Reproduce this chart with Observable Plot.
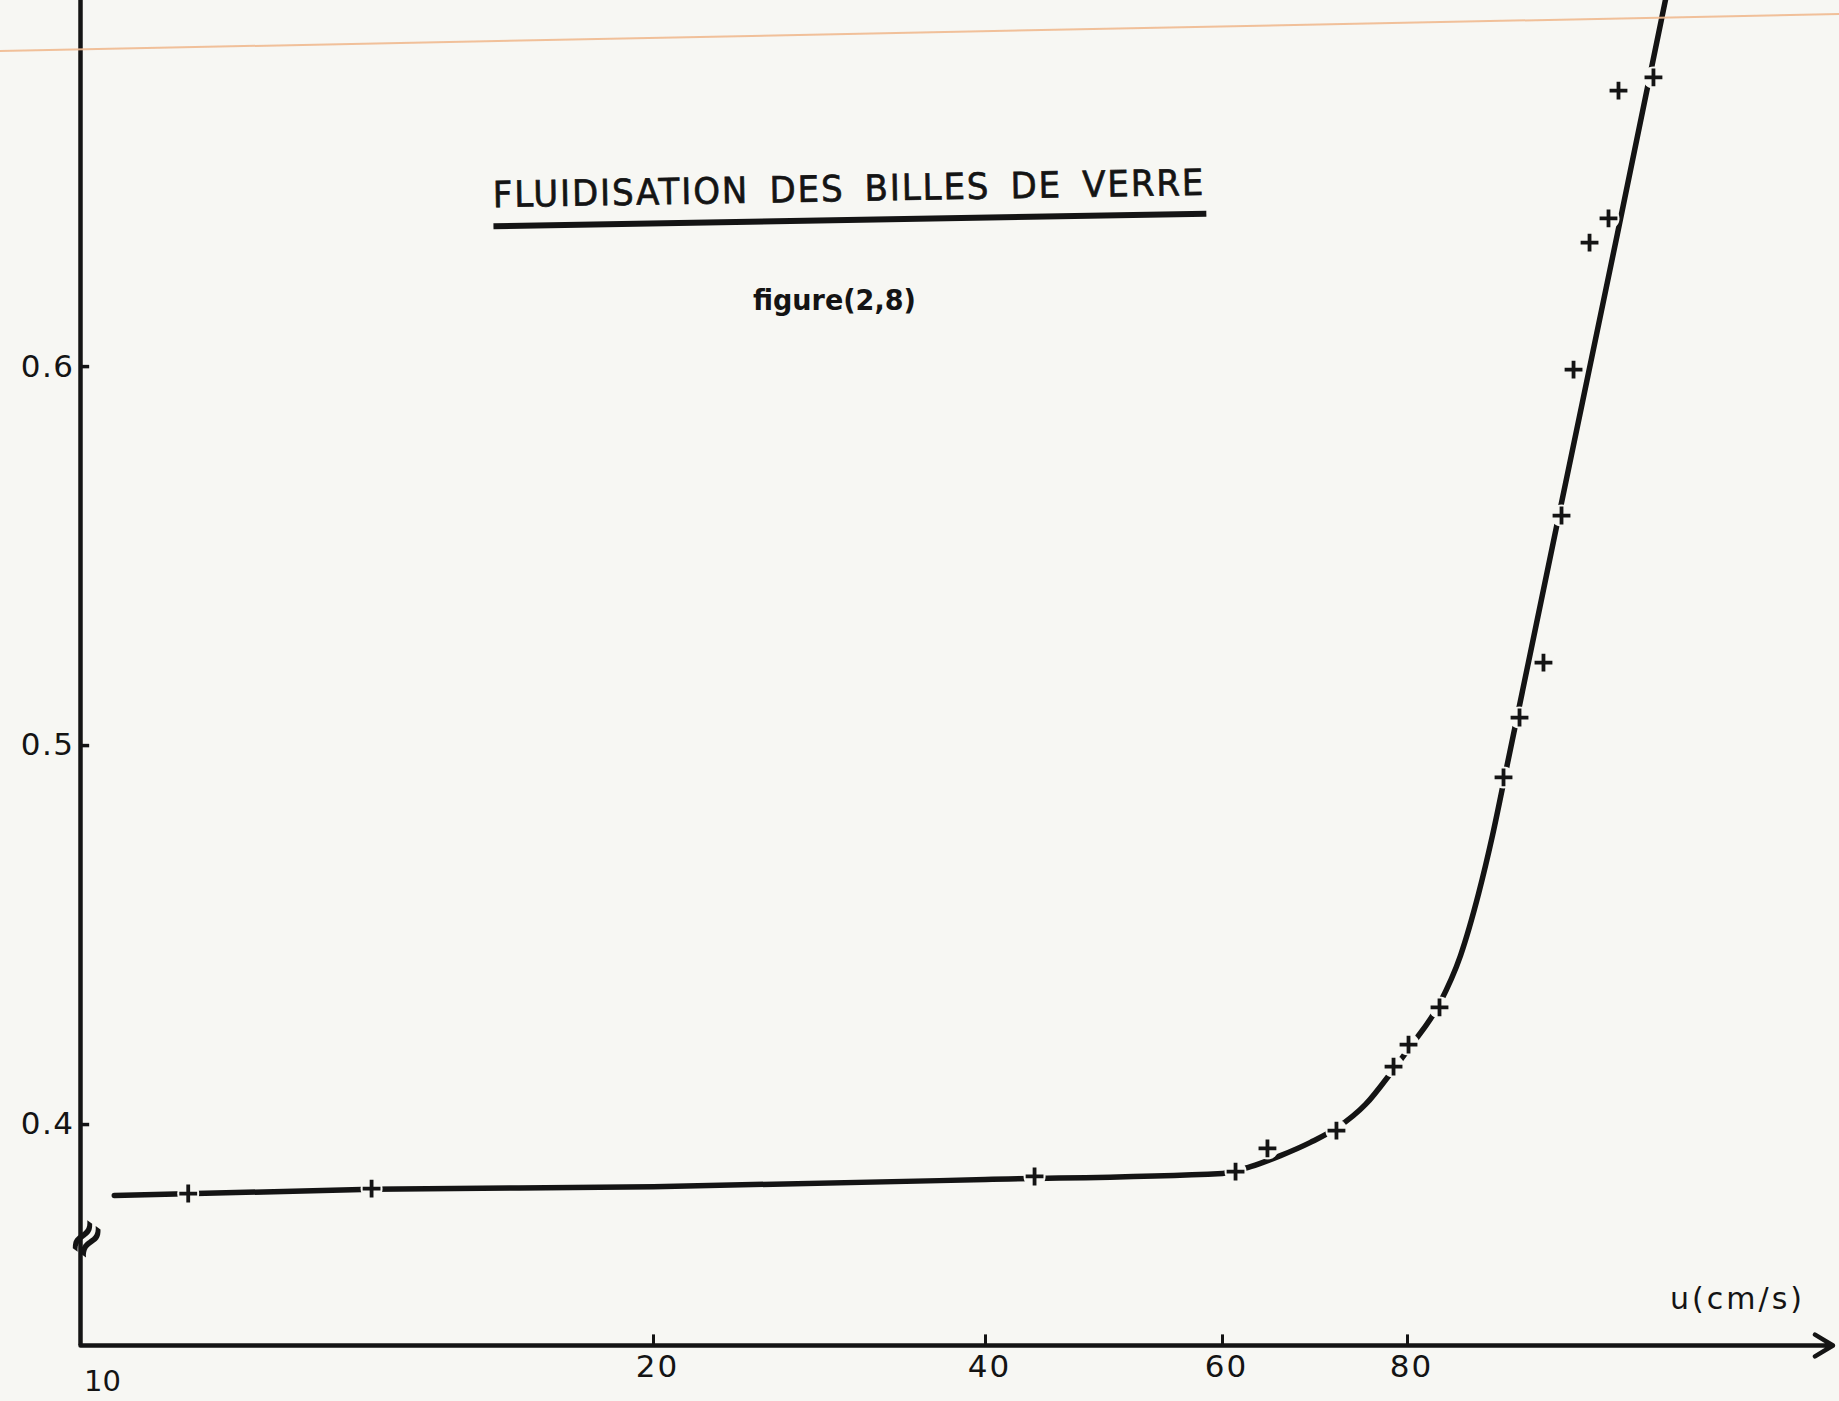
<!DOCTYPE html>
<html>
<head>
<meta charset="utf-8">
<script src="https://cdn.jsdelivr.net/npm/d3@7"></script>
<script src="https://cdn.jsdelivr.net/npm/@observablehq/plot@0.6"></script>
<style>
  html, body { margin: 0; padding: 0; background: #f7f7f3; }
  #wrap { position: relative; width: 1839px; height: 1401px; overflow: hidden; background: #f7f7f3; }
  #chart { position: absolute; left: 0; top: 0; }
  #scanline { position: absolute; left: 0; top: 50px; width: 1860px; height: 2px; background: #efb98f;
              transform-origin: 0 50%; transform: rotate(-1.15deg); opacity: 0.9; }
  #title { position: absolute; left: 493px; top: 171px; width: 713px; display: flex; justify-content: center; white-space: nowrap;
           font-family: "DejaVu Sans", sans-serif; font-size: 36px; line-height: 36px; letter-spacing: 2px; word-spacing: 8px;
           color: #141414; -webkit-text-stroke: 0.7px #141414; padding-bottom: 10px; border-bottom: 6px solid #141414;
           transform-origin: 50% 50%; transform: rotate(-1deg); }
  #fig { position: absolute; left: 751px; top: 284px; width: 166px; display: flex; justify-content: center; white-space: nowrap;
         font-family: "DejaVu Sans", sans-serif; font-weight: bold; font-size: 29px; line-height: 32px; color: #141414; }
</style>
</head>
<body>
<div id="wrap">
  <div id="chart"></div>
  <div id="scanline"></div>
  <div id="title">FLUIDISATION DES BILLES DE VERRE</div>
  <div id="fig">figure(2,8)</div>
</div>
<script>
// ---- measured points (u in cm/s, porosity) ----
const pointU   = [11.88, 15.08, 44.14, 61.41, 64.86, 72.32, 78.49, 80.11, 83.46, 90.38, 92.11, 94.70, 96.65, 97.95, 99.68, 101.73, 102.81, 106.59];
const pointEps = [0.3818, 0.3831, 0.3863, 0.3876, 0.3937, 0.3984, 0.4153, 0.4211, 0.4309, 0.4916, 0.5074, 0.5219, 0.5607, 0.5992, 0.6327, 0.6391, 0.6728, 0.6763];

// ---- hand-drawn fitted curve ----
const curveU   = [10.59, 15.08, 20, 40, 60, 63.03, 66.27, 69.51, 72.43, 75.46, 78.38, 80.22, 83.46, 85.73, 87.68, 89.19, 90.81, 96.32, 102.70, 108.43];
const curveEps = [0.3813, 0.3829, 0.3836, 0.3855, 0.3871, 0.3889, 0.3918, 0.3953, 0.3992, 0.4053, 0.4142, 0.4203, 0.4319, 0.4446, 0.4609, 0.4763, 0.4953, 0.5602, 0.6351, 0.7032];

// ---- axes ----
const xTickValues = [20, 40, 60, 80];
const xTickLabels = ["20", "40", "60", "80"];
const originValue = [10];
const originLabel = ["10"];
const yTickValues = [0.4, 0.5, 0.6];
const yTickLabels = ["0.4", "0.5", "0.6"];
const breakValue = [0.3699];
const xAxisLabel = ["u(cm/s)"];
const xAxisEnd = 126;

// hand-drawn, non-uniform x graduation (piecewise scale)
const xScaleDomain = [10, 20, 40, 60, 80];
const xScaleRange  = [80, 653, 985, 1222, 1407];
const yDomain = [0.3417, 0.6966];

const ink = "#141414";
const paper = "#f7f7f3";

const points = pointU.map((u, i) => ({u, eps: pointEps[i]}));
const curve = curveU.map((u, i) => ({u, eps: curveEps[i]}));
const yMin = yDomain[0];

const chart = Plot.plot({
  width: 1839,
  height: 1401,
  marginTop: 0, marginBottom: 56, marginLeft: 0, marginRight: 0,
  style: {background: paper, fontFamily: "DejaVu Sans, sans-serif", color: ink},
  x: {type: "linear", domain: xScaleDomain, range: xScaleRange, axis: null},
  y: {domain: yDomain, axis: null},
  marks: [
    // curve
    Plot.line(curve, {x: "u", y: "eps", curve: "monotone-x", stroke: ink, strokeWidth: 5.5, clip: true}),
    // gaps in the curve around the measured points
    Plot.dot(points, {x: "u", y: "eps", r: 11, fill: paper}),
    // measured points
    Plot.dot(points, {x: "u", y: "eps", symbol: "plus", r: 5.8, stroke: ink, strokeWidth: 3.8}),
    // y axis
    Plot.ruleX(originValue, {stroke: ink, strokeWidth: 4.5}),
    Plot.ruleY(yTickValues, {x1: originValue[0], x2: originValue[0] + 0.16, stroke: ink, strokeWidth: 3.5}),
    Plot.text(yTickValues, {x: () => originValue[0], y: d => d, text: (d, i) => yTickLabels[i],
      textAnchor: "end", dx: -6, fontSize: 31, fill: ink}),
    // axis break mark
    Plot.text(breakValue, {x: () => originValue[0], y: d => d, text: () => "≈", rotate: -55, dx: 6,
      fontSize: 50, fontWeight: "bold", fill: ink}),
    // x axis with arrow
    Plot.arrow([{x1: originValue[0], x2: xAxisEnd}], {x1: "x1", x2: "x2", y1: () => yMin, y2: () => yMin,
      stroke: ink, strokeWidth: 4.5, headLength: 7, headAngle: 62}),
    Plot.ruleX(xTickValues, {y1: () => yMin, y2: () => yMin + 0.0028, stroke: ink, strokeWidth: 3}),
    Plot.text(xTickValues, {x: d => d, y: () => yMin, text: (d, i) => xTickLabels[i], dy: 22, dx: 4,
      fontSize: 31, fill: ink}),
    Plot.text(originValue, {x: d => d, y: () => yMin, text: (d, i) => originLabel[i], dx: 22, dy: 36,
      fontSize: 29, fill: ink}),
    Plot.text(xAxisLabel, {x: () => xAxisEnd, y: () => yMin, text: d => d, textAnchor: "end", dx: -28, dy: -46,
      fontSize: 30, fill: ink})
  ]
});
document.getElementById("chart").appendChild(chart);

// letter spacing for the hand-lettered labels
chart.querySelectorAll("text").forEach(t => {
  if (t.textContent === xAxisLabel[0]) t.setAttribute("letter-spacing", "3");
  if (yTickLabels.includes(t.textContent)) t.setAttribute("letter-spacing", "1.5");
  if (xTickLabels.includes(t.textContent)) t.setAttribute("letter-spacing", "2");
});

// fit the hand-lettered texts to their measured widths (centred in their box)
function fitWidth(el, target) {
  const span = document.createElement("span");
  span.textContent = el.textContent;
  el.textContent = "";
  el.appendChild(span);
  span.style.display = "inline-block";
  span.style.flex = "none";
  const w = span.getBoundingClientRect().width;
  const s = target / w;
  span.style.transformOrigin = "50% 50%";
  span.style.transform = `scaleX(${s})`;
}
fitWidth(document.getElementById("title"), 713);
fitWidth(document.getElementById("fig"), 163);
</script>
</body>
</html>
